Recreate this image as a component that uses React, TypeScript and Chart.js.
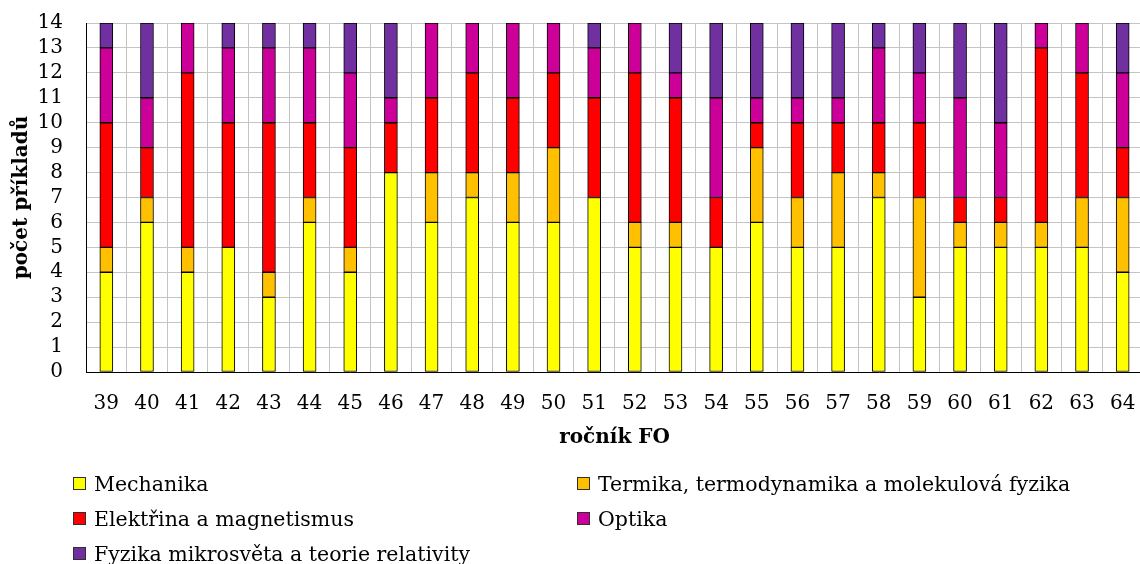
import React, { useEffect, useRef } from 'react';
import { Chart, registerables } from 'chart.js';

Chart.register(...registerables);

const categories = ['39','40','41','42','43','44','45','46','47','48','49','50','51','52','53','54','55','56','57','58','59','60','61','62','63','64'];
const mechanika = [4,6,4,5,3,6,4,8,6,7,6,6,7,5,5,5,6,5,5,7,3,5,5,5,5,4];
const termika = [1,1,1,0,1,1,1,0,2,1,2,3,0,1,1,0,3,2,3,1,4,1,1,1,2,3];
const elektrina = [5,2,7,5,6,3,4,2,3,4,3,3,4,6,5,2,1,3,2,2,3,1,1,7,5,2];
const optika = [3,2,2,3,3,3,3,1,3,2,3,2,2,2,1,4,1,1,1,3,2,4,3,1,2,3];
const fyzika = [1,3,0,1,1,1,2,3,0,0,0,0,1,0,2,3,3,3,3,1,2,3,4,0,0,2];

const seriesNames = [
  'Mechanika',
  'Termika, termodynamika a molekulová fyzika',
  'Elektřina a magnetismus',
  'Optika',
  'Fyzika mikrosvěta a teorie relativity',
];
const seriesColors = ['#FFFF00', '#FFC000', '#FF0000', '#CC0099', '#7030A0'];
const seriesData = [mechanika, termika, elektrina, optika, fyzika];

const FONT = '"DejaVu Serif", serif';

const gridLegend = {
  id: 'gridLegend',
  afterDraw(chart: any) {
    const ctx = chart.ctx;
    const cols = [73, 577];
    const rows = [483, 518, 553];
    ctx.save();
    ctx.font = '20.5px ' + FONT;
    ctx.textBaseline = 'alphabetic';
    ctx.textAlign = 'left';
    chart.data.datasets.forEach((ds: any, i: number) => {
      const x = cols[i % 2];
      const y = rows[Math.floor(i / 2)];
      ctx.fillStyle = ds.backgroundColor;
      ctx.fillRect(x, y - 6, 13, 13);
      ctx.strokeStyle = '#303030';
      ctx.lineWidth = 1;
      ctx.strokeRect(x + 0.5, y - 5.5, 12, 12);
      ctx.fillStyle = '#000';
      ctx.fillText(ds.label, x + 21, y + 8);
    });
    ctx.restore();
  },
};

export default function App() {
  const ref = useRef<HTMLCanvasElement | null>(null);

  useEffect(() => {
    if (!ref.current) return;
    const chart = new Chart(ref.current, {
      type: 'bar',
      data: {
        labels: categories,
        datasets: seriesData.map((d, i) => ({
          label: seriesNames[i],
          data: d,
          backgroundColor: seriesColors[i],
          borderColor: '#000',
          borderWidth: 1,
          borderSkipped: false,
          barThickness: 13,
        })),
      },
      options: {
        responsive: false,
        animation: false,
        devicePixelRatio: 1,
        layout: { padding: { top: 23, left: 0, right: 17, bottom: 100 } },
        plugins: {
          legend: { display: false },
          tooltip: { enabled: false },
        },
        scales: {
          x: {
            stacked: true,
            offset: true,
            grid: { display: true, offset: true, color: '#c4c4c4', lineWidth: 1, drawTicks: false },
            border: { display: true, color: '#000', width: 1 },
            ticks: { color: '#000', font: { family: FONT, size: 20 }, padding: 20, maxRotation: 0, autoSkip: false },
            title: { display: true, text: 'ročník FO', color: '#000', font: { family: FONT, size: 20, weight: 'bold' }, padding: { top: 0, bottom: 14 } },
            afterFit: (s: any) => { s.height = 92; },
          },
          y: {
            stacked: true,
            min: 0,
            max: 14,
            grid: { color: '#c4c4c4', lineWidth: 1, drawTicks: false },
            border: { display: true, color: '#000', width: 1 },
            ticks: { stepSize: 1, autoSkip: false, color: '#000', font: { family: FONT, size: 20 }, padding: 23 },
            title: { display: true, text: 'počet příkladů', color: '#000', font: { family: FONT, size: 20, weight: 'bold' }, padding: { top: 10, bottom: 0 } },
            afterFit: (s: any) => { s.width = 86; s.paddingTop = 12; s.paddingBottom = 12; },
          },
        },
      },
      plugins: [gridLegend],
    });
    return () => chart.destroy();
  }, []);

  return (
    <div style={{ position: 'absolute', left: 0, top: 0, width: 1140, height: 564, overflow: 'hidden', background: '#fff' }}>
      <canvas ref={ref} width={1160} height={564} style={{ display: 'block' }} />
    </div>
  );
}
